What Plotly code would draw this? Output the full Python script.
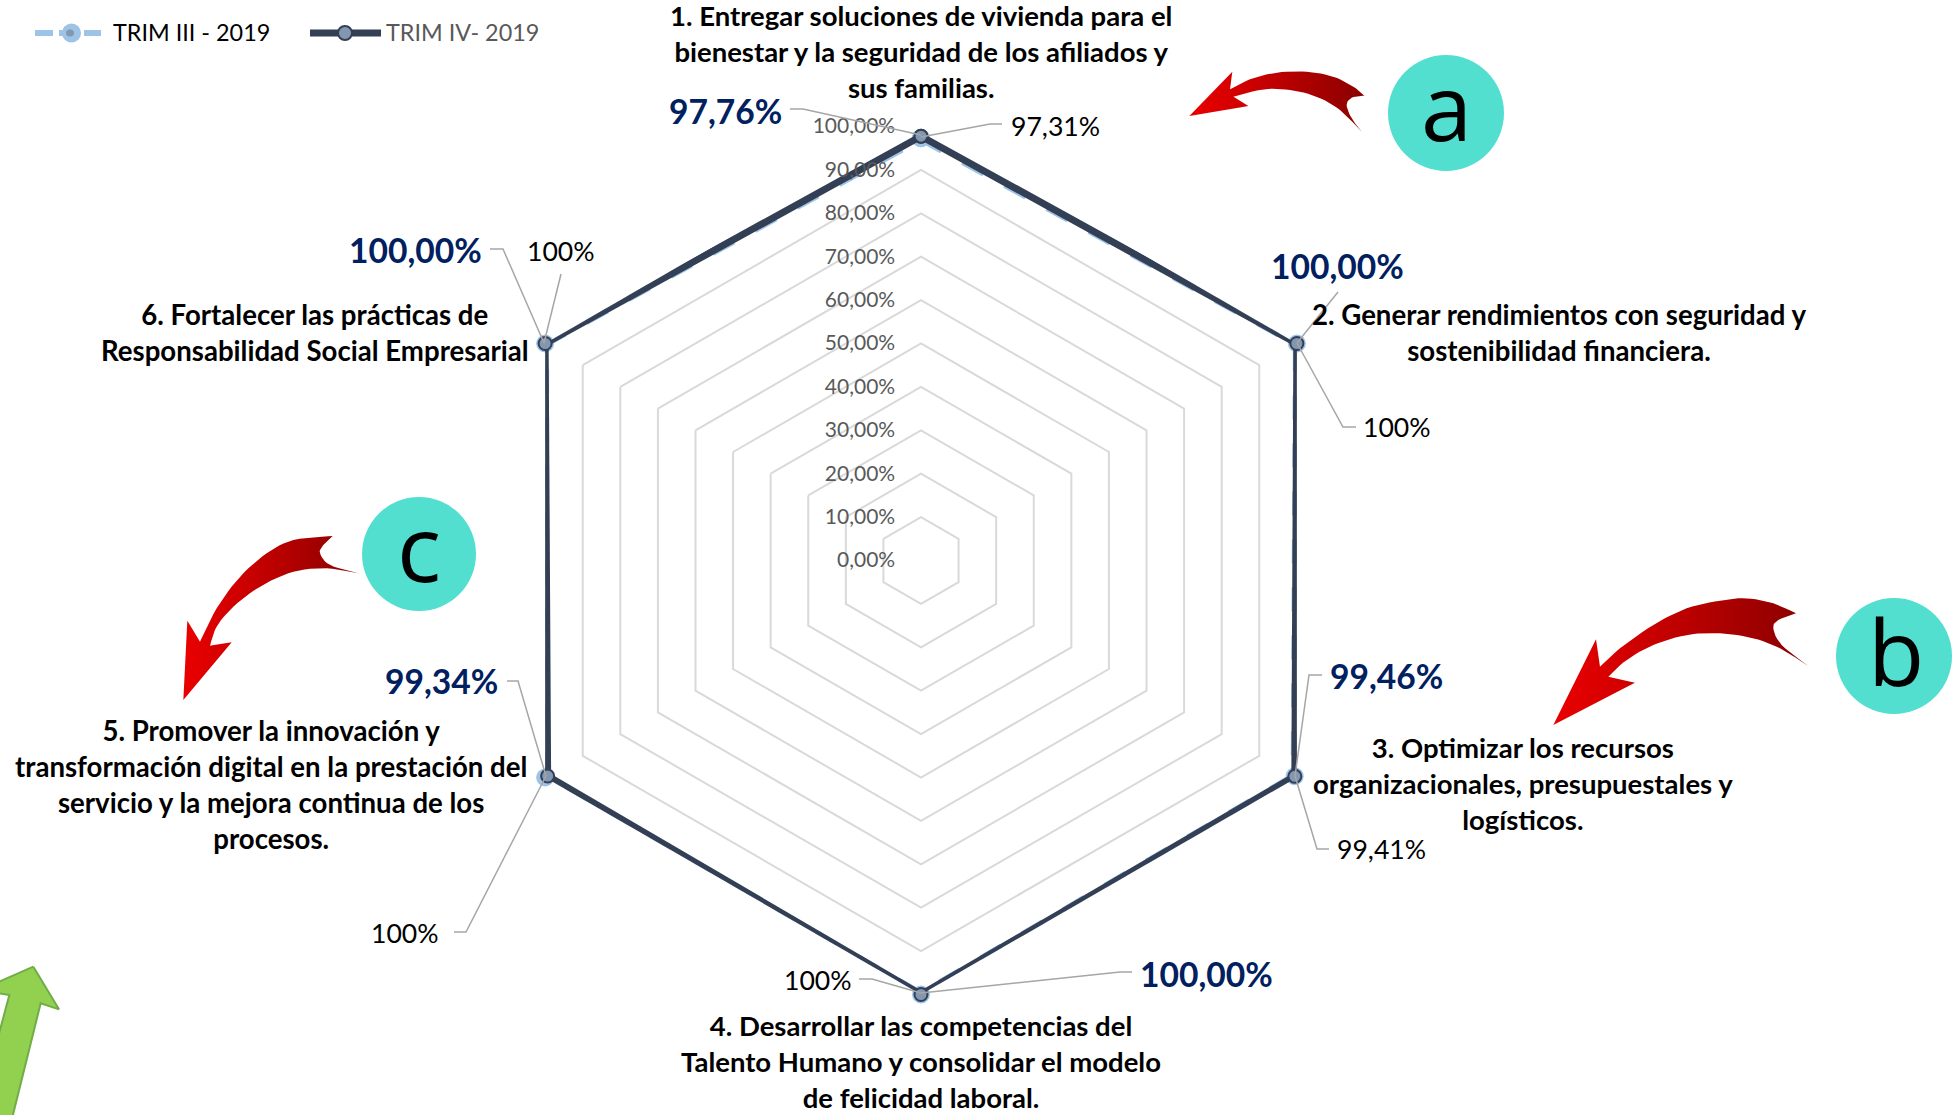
import plotly.graph_objects as go

# --- chart data -------------------------------------------------------
CATEGORIES = ["Objetivo 1", "Objetivo 2", "Objetivo 3", "Objetivo 4", "Objetivo 5", "Objetivo 6"]
TRIM_III = [97.31, 100, 99.41, 100, 100, 100]
TRIM_IV = [97.76, 100, 99.46, 100, 99.34, 100]
RADIAL_TICKS = [0, 10, 20, 30, 40, 50, 60, 70, 80, 90, 100]
RADIAL_LABELS = ["0,00%", "10,00%", "20,00%", "30,00%", "40,00%", "50,00%",
                 "60,00%", "70,00%", "80,00%", "90,00%", "100,00%"]
NAME_III = "TRIM III - 2019"
NAME_IV = "TRIM IV- 2019"
LABELS_III = ["97,31%", "100%", "99,41%", "100%", "100%", "100%"]
LABELS_IV = ["97,76%", "100,00%", "99,46%", "100,00%", "99,34%", "100,00%"]
OBJECTIVES = [
    "1. Entregar soluciones de vivienda para el<br>bienestar y la seguridad de los afiliados y<br>sus familias.",
    "2. Generar rendimientos con seguridad y<br>sostenibilidad financiera.",
    "3. Optimizar los recursos<br>organizacionales, presupuestales y<br>logísticos.",
    "4. Desarrollar las competencias del<br>Talento Humano y consolidar el modelo<br>de felicidad laboral.",
    "5. Promover la innovación y<br>transformación digital en la prestación del<br>servicio y la mejora continua de los<br>procesos.",
    "6. Fortalecer las prácticas de<br>Responsabilidad Social Empresarial",
]

# --- layout helpers (page pixels) ---------------------------------------
W, H = 1959, 1115
CX, CY, R = 921, 560.5, 434
FONT = "Lato"
NAVY = "#002060"
DARK = "#333f55"
LIGHT = "#9dc3e6"
TEAL = "#52dfd0"
GRAY = "#a6a6a6"

fig = go.Figure()


def closed(v):
    return list(v) + [v[0]]


def crop(pts, ox, oy):
    return [ox + p[0] / 3 for p in pts], [oy + p[1] / 3 for p in pts]


def smooth(pts, corners, n=6):
    """Catmull-Rom between the sharp corner points of a closed outline."""
    out = []
    k = len(pts)
    for i in range(k):
        p1, p2 = pts[i], pts[(i + 1) % k]
        p0 = pts[i - 1] if i not in corners else p1
        p3 = pts[(i + 2) % k] if (i + 1) % k not in corners else p2
        for s in range(n):
            t = s / n
            out.append(tuple(
                0.5 * (2 * p1[a] + (p2[a] - p0[a]) * t + (2 * p0[a] - 5 * p1[a] + 4 * p2[a] - p3[a]) * t ** 2
                       + (3 * p1[a] - p0[a] - 3 * p2[a] + p3[a]) * t ** 3) for a in (0, 1)))
    return out


RED = dict(type="horizontal", colorscale=[[0, "#ea0000"], [0.35, "#cc0000"], [1, "#8a0000"]])
ARROW_A = ([(118, 258), (247, 125), (240, 178), (300, 148), (380, 128), (470, 125), (550, 140), (610, 170),
            (643, 197), (605, 203), (590, 225), (605, 265), (635, 305), (570, 240), (500, 200), (420, 180),
            (340, 178), (250, 200), (295, 228)], 1150, 30, {0, 1, 2, 8, 12, 17, 18})
ARROW_B = ([(100, 465), (228, 208), (240, 290), (300, 235), (400, 165), (500, 115), (600, 92), (680, 85),
            (760, 100), (828, 130), (775, 150), (760, 175), (785, 225), (865, 288), (780, 235), (700, 205),
            (600, 190), (500, 195), (400, 225), (320, 270), (265, 320), (345, 338)], 1520, 570,
           {0, 1, 2, 9, 13, 20, 21})
ARROW_C = ([(70, 660), (82, 422), (120, 485), (170, 385), (240, 290), (320, 220), (400, 180), (518, 168),
            (490, 195), (480, 220), (510, 255), (595, 280), (500, 265), (400, 275), (300, 320), (220, 380),
            (170, 440), (150, 497), (215, 487)], 160, 480, {0, 1, 2, 7, 11, 17, 18})
for pts, ox, oy, corners in (ARROW_A, ARROW_B, ARROW_C):
    x, y = crop(smooth(pts, corners), ox, oy)
    fig.add_trace(go.Scatter(x=closed(x), y=closed(y), mode="lines", fill="toself", line=dict(width=0),
                             fillcolor="#cc0000", fillgradient=RED, showlegend=False, hoverinfo="skip"))

GREEN = [(100, 80), (177, 208), (122, 190), (35, 540), (-72, 540), (28, 165), (-60, 150)]
x, y = crop(GREEN, 0, 940)
fig.add_trace(go.Scatter(x=closed(x), y=closed(y), mode="lines", fill="toself", fillcolor="#92d050",
                         line=dict(color="#70ad47", width=2), showlegend=False, hoverinfo="skip"))

# radar series
fig.add_trace(go.Scatterpolar(r=closed(TRIM_III), theta=closed(CATEGORIES), name=NAME_III, mode="lines+markers",
                              line=dict(color=LIGHT, width=8, dash="dash"), cliponaxis=False,
                              marker=dict(size=18, color=LIGHT), showlegend=False))
fig.add_trace(go.Scatterpolar(r=closed(TRIM_IV), theta=closed(CATEGORIES), name=NAME_IV, mode="lines+markers",
                              line=dict(color=DARK, width=7), cliponaxis=False,
                              marker=dict(size=13, color="#8497b0", line=dict(color=DARK, width=2)),
                              showlegend=False))

shapes = []


def leader(pts):
    path = "M" + " L".join(f"{a},{b}" for a, b in pts)
    shapes.append(dict(type="path", path=path, xref="x", yref="y", layer="above",
                       line=dict(color=GRAY, width=1.5)))


for pts in [
    [(790, 109), (803, 109), (921, 135)], [(1002, 124), (990, 124), (921, 137)],
    [(1338, 292), (1297, 343)], [(1297, 343), (1343, 427), (1356, 427)],
    [(1322, 675), (1309, 675), (1295, 776)], [(1295, 776), (1317, 849), (1329, 849)],
    [(859, 979), (872, 979), (921, 993)], [(921, 993), (1120, 972), (1132, 972)],
    [(507, 681), (518, 681), (546, 776)], [(546, 776), (466, 932), (454, 932)],
    [(490, 249), (503, 249), (544, 343)], [(561, 274), (544, 343)],
]:
    leader(pts)

# letter badges
for cx, cy, r in ((1446, 113, 58), (1894, 656, 58), (419, 554, 57)):
    shapes.append(dict(type="circle", xref="x", yref="y", x0=cx - r, x1=cx + r, y0=cy - r, y1=cy + r,
                       fillcolor=TEAL, line=dict(width=0), layer="below"))

# hand-built legend (its two labels have different colours)
LEG_Y = 33
for x0, x1 in ((35, 53), (59, 66), (84, 101)):
    shapes.append(dict(type="line", xref="x", yref="y", x0=x0, x1=x1, y0=LEG_Y, y1=LEG_Y, layer="above",
                       line=dict(color=LIGHT, width=6)))
shapes.append(dict(type="circle", xref="x", yref="y", x0=62, x1=81, y0=LEG_Y - 9.5, y1=LEG_Y + 9.5, layer="above",
                   fillcolor=LIGHT, line=dict(width=0)))
shapes.append(dict(type="circle", xref="x", yref="y", x0=66, x1=74, y0=LEG_Y - 3.5, y1=LEG_Y + 3.5, layer="above",
                   fillcolor="#8497b0", line=dict(width=0)))
shapes.append(dict(type="line", xref="x", yref="y", x0=310, x1=381, y0=LEG_Y, y1=LEG_Y, layer="above",
                   line=dict(color=DARK, width=7)))
shapes.append(dict(type="circle", xref="x", yref="y", x0=338, x1=352, y0=LEG_Y - 7, y1=LEG_Y + 7, layer="above",
                   fillcolor="#8497b0", line=dict(color=DARK, width=2)))

annotations = []


def text(t, x, y, size, color="#000000", bold=False, xanchor="center", align="center", family=FONT):
    annotations.append(dict(text=f"<b>{t}</b>" if bold else t, x=x, y=y, xref="x", yref="y", showarrow=False,
                            xanchor=xanchor, yanchor="middle", align=align,
                            font=dict(family=family, size=size, color=color)))


text(NAME_III, 111, LEG_Y - 1, 23.4, xanchor="left")
text(NAME_IV, 384, LEG_Y - 1, 23.4, color="#595959", xanchor="left")

for t, x, y in zip(LABELS_IV, (725, 1337, 1386, 1206, 441, 415), (111, 266, 676, 974, 681, 250)):
    text(t, x, y, 33.6, color=NAVY, bold=True)
for t, x, y in zip(LABELS_III, (1055, 1397, 1381, 818, 405, 561), (126, 427, 849, 980, 933, 251)):
    text(t, x, y, 26.6)
for t, x, y, s in zip(OBJECTIVES, (921, 1559, 1523, 921, 271, 315), (51.5, 332.5, 783, 1061.5, 784, 332.5),
                      (27.5, 27.6, 27.5, 27.5, 27.6, 27.6)):
    text(t, x, y, s, bold=True)
for t, x, y in (("a", 1446, 105), ("b", 1896, 650), ("c", 419, 546)):
    text(t, x, y, 92, family="Open Sans")

fig.update_layout(
    width=W, height=H, margin=dict(l=0, r=0, t=0, b=0), paper_bgcolor="white", plot_bgcolor="rgba(0,0,0,0)",
    showlegend=False, shapes=shapes, annotations=annotations,
    xaxis=dict(range=[0, W], domain=[0, 1], visible=False, fixedrange=True),
    yaxis=dict(range=[H, 0], domain=[0, 1], visible=False, fixedrange=True),
    polar=dict(
        domain=dict(x=[(CX - R) / W, (CX + R) / W], y=[1 - (CY + R) / H, 1 - (CY - R) / H]),
        bgcolor="rgba(0,0,0,0)", gridshape="linear",
        angularaxis=dict(categoryorder="array", categoryarray=CATEGORIES, rotation=90, direction="clockwise",
                         showgrid=False, showticklabels=False, ticks="", showline=False),
        radialaxis=dict(range=[0, 100], angle=90, tickangle=90, side="counterclockwise", tickvals=RADIAL_TICKS,
                        ticktext=RADIAL_LABELS, ticks="outside", ticklen=18, tickwidth=1,
                        tickcolor="rgba(0,0,0,0)", showline=False, gridcolor="#d9d9d9", gridwidth=2,
                        tickfont=dict(family=FONT, size=21, color="#595959")),
    ),
)

fig.write_html("out.html", config=dict(displayModeBar=False),
               post_script="document.body.style.margin='0';document.body.style.overflow='hidden';")
